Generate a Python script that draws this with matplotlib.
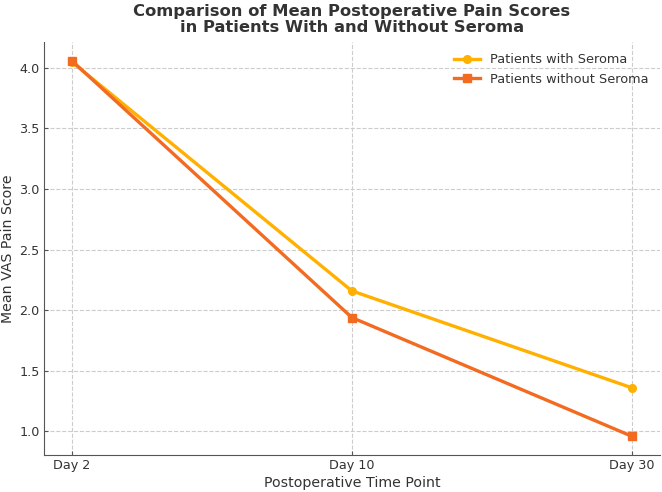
import matplotlib
matplotlib.use("Agg")
import matplotlib.pyplot as plt

days = ["Day 2", "Day 10", "Day 30"]
with_seroma = [4.05, 2.16, 1.36]
without_seroma = [4.06, 1.94, 0.96]

txt = "#333333"
fig, ax = plt.subplots(figsize=(6.62, 4.92), dpi=100)
x = range(len(days))
ax.plot(x, with_seroma, color="#FFB000", marker="o", lw=2.4, ms=5.5, label="Patients with Seroma")
ax.plot(x, without_seroma, color="#F26B21", marker="s", lw=2.4, ms=5.5, label="Patients without Seroma")
ax.set_xticks(list(x))
ax.set_xticklabels(days)
ax.tick_params(labelsize=9.2, colors=txt, color="#555555", direction="in", length=3, pad=3)
ax.set_xlabel("Postoperative Time Point", fontsize=10.2, color=txt, labelpad=3)
ax.set_ylabel("Mean VAS Pain Score", fontsize=10.2, color=txt, labelpad=3)
ax.set_title("Comparison of Mean Postoperative Pain Scores\nin Patients With and Without Seroma",
             fontsize=11.8, fontweight="bold", color=txt, pad=7, linespacing=1.05)
ax.grid(True, linestyle="--", color="#cccccc", linewidth=0.8)
ax.set_axisbelow(True)
for s in ["top", "right"]:
    ax.spines[s].set_visible(False)
for s in ["left", "bottom"]:
    ax.spines[s].set_color("#555555")
leg = ax.legend(frameon=False, loc="upper right", fontsize=9.3)
for t in leg.get_texts():
    t.set_color(txt)
fig.subplots_adjust(left=0.066, right=0.997, bottom=0.075, top=0.915)
fig.savefig("out.png", dpi=100)
